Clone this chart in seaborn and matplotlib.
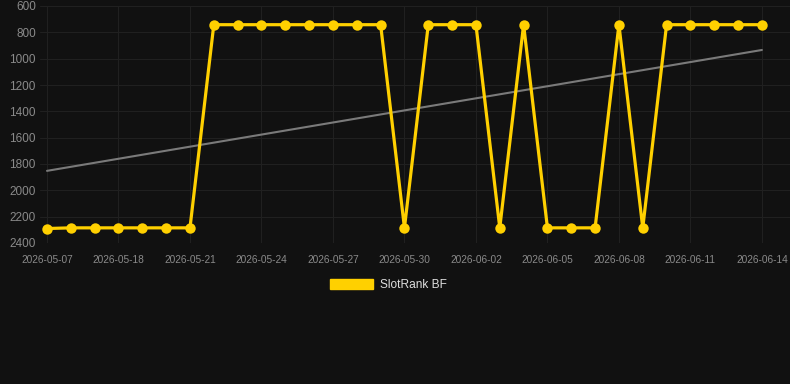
import matplotlib
matplotlib.use("Agg")
import matplotlib.pyplot as plt
import seaborn as sns
import numpy as np
import pandas as pd
from matplotlib.patches import Patch

dates = ["2026-05-07", "2026-05-12", "2026-05-15", "2026-05-18", "2026-05-19", "2026-05-20",
         "2026-05-21", "2026-05-22", "2026-05-23", "2026-05-24", "2026-05-25", "2026-05-26",
         "2026-05-27", "2026-05-28", "2026-05-29", "2026-05-30", "2026-05-31", "2026-06-01",
         "2026-06-02", "2026-06-03", "2026-06-04", "2026-06-05", "2026-06-06", "2026-06-07",
         "2026-06-08", "2026-06-09", "2026-06-10", "2026-06-11", "2026-06-12", "2026-06-13",
         "2026-06-14"]
ranks = [2290, 2285, 2285, 2285, 2285, 2285, 2285,
         742, 742, 742, 742, 742, 742, 742, 742,
         2285, 742, 742, 742, 2285, 742, 2285, 2285, 2285,
         742, 2285, 742, 742, 742, 742, 742]
trend_ends = [1852, 934]
tick_every = 3
series_name = "SlotRank BF"

bg = "#111111"
yellow = "#FFD000"

sns.set_theme(style="dark")
plt.rcParams["font.family"] = ["Liberation Sans", "DejaVu Sans"]

fig = plt.figure(figsize=(7.9, 3.84), dpi=100, facecolor=bg)
W, H = 790, 384
ax = fig.add_axes([40 / W, 1 - 243 / H, 750 / W, (243 - 6) / H])
ax.set_facecolor(bg)

df = pd.DataFrame({"i": np.arange(len(dates)), "rank": ranks})
sns.lineplot(data=df, x="i", y="rank", ax=ax, color=yellow, linewidth=2.3,
             marker="o", markersize=7.5, markeredgewidth=0, zorder=3)
for ln in ax.lines:
    ln.set_solid_joinstyle("miter")

trend = pd.DataFrame({"i": [0, len(dates) - 1], "rank": trend_ends})
sns.lineplot(data=trend, x="i", y="rank", ax=ax, color="#7a7a7a", linewidth=1.5, zorder=2)

px0, step = 47, 23.83
ax.set_xlim((40 - px0) / step, (790 - px0) / step)
ax.set_ylim(2400, 600)
ax.set_yticks(np.arange(600, 2401, 200))
ax.set_yticklabels([str(v) for v in range(600, 2401, 200)], fontsize=8.5, color="#8a8a8a")
ticks = list(range(0, len(dates), tick_every))
ax.set_xticks(ticks)
ax.set_xticklabels([dates[t] for t in ticks], fontsize=7.3, color="#8a8a8a")
ax.tick_params(axis="both", length=0)
ax.tick_params(axis="x", pad=8.5)
ax.tick_params(axis="y", pad=3)
ax.set_xlabel("")
ax.set_ylabel("")
ax.grid(True, color="#202020", linewidth=0.8)
for s in ax.spines.values():
    s.set_visible(False)

handle = Patch(facecolor=yellow, edgecolor=yellow)
fig.legend([handle], [series_name], loc="center", bbox_to_anchor=(0.492, 1 - 285 / H),
           frameon=False, fontsize=8.6, labelcolor="#dddddd", handlelength=3.6,
           handleheight=1.0, handletextpad=0.6)

fig.savefig("out.png", dpi=100, facecolor=bg)
